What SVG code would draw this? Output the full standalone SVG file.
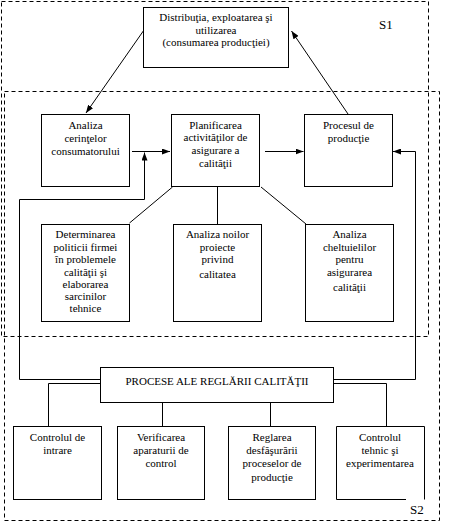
<svg xmlns="http://www.w3.org/2000/svg" width="449" height="525" viewBox="0 0 449 525" font-family="'Liberation Serif', 'Times New Roman', serif" font-size="11" font-weight="normal">
<defs>
<marker id="arr" markerUnits="userSpaceOnUse" markerWidth="8" markerHeight="6" refX="8" refY="3" orient="auto">
<path d="M0,0 L8,3 L0,6 z" fill="#000"/>
</marker>
<style>
.box{fill:#fff;stroke:#000;stroke-width:1}
.dash{fill:none;stroke:#000;stroke-width:1;stroke-dasharray:4 3}
.ln{fill:none;stroke:#000;stroke-width:1}
text{font-family:'Liberation Serif','Times New Roman',serif;font-size:11px;font-weight:normal;fill:#000;text-anchor:middle}
text.lbl{font-size:13px;text-anchor:start}
</style>
</defs>
<rect width="449" height="525" fill="#fff"/>
<g id="regions">
<rect class="dash" x="1.5" y="1.5" width="427" height="335"/>
<rect class="dash" x="4.5" y="91.5" width="435" height="429"/>
<text class="lbl" x="379" y="29">S1</text>
</g>
<g id="connectors">
<line class="ln" x1="144" y1="30" x2="86" y2="113" marker-end="url(#arr)"/>
<line class="ln" x1="348" y1="114" x2="291.5" y2="31" marker-end="url(#arr)"/>
<line class="ln" x1="132" y1="151.5" x2="170" y2="151.5" marker-end="url(#arr)"/>
<polyline class="ln" points="100,379.5 19.5,379.5 19.5,199.5 144.5,199.5 144.5,152.5" marker-end="url(#arr)"/>
<line class="ln" x1="265" y1="151.5" x2="303.5" y2="151.5" marker-end="url(#arr)"/>
<polyline class="ln" points="334,379.5 415.5,379.5 415.5,151.5 393,151.5" marker-end="url(#arr)"/>
<line class="ln" x1="172.5" y1="187" x2="129.5" y2="223"/>
<line class="ln" x1="217.5" y1="187" x2="217.5" y2="224"/>
<line class="ln" x1="261" y1="187" x2="306" y2="224"/>
<polyline class="ln" points="100,383.5 48.5,383.5 48.5,426"/>
<line class="ln" x1="162.5" y1="403" x2="162.5" y2="426"/>
<line class="ln" x1="270.5" y1="403" x2="270.5" y2="426"/>
<polyline class="ln" points="334,383.5 386.5,383.5 386.5,426"/>
</g>
<g id="n-distributia">
<rect class="box" x="143.5" y="7.5" width="145" height="60"/>
<text x="216" y="21">Distribuţia, exploatarea şi</text>
<text x="216" y="33.5">utilizarea</text>
<text x="216" y="46">(consumarea producţiei)</text>
</g>
<g id="n-analiza">
<rect class="box" x="41.5" y="114.5" width="88" height="72"/>
<text x="85.5" y="129">Analiza</text>
<text x="85.5" y="141.5">cerinţelor</text>
<text x="85.5" y="155">consumatorului</text>
</g>
<g id="n-planificarea">
<rect class="box" x="171.5" y="114.5" width="88" height="72"/>
<text x="215.5" y="128.5">Planificarea</text>
<text x="215.5" y="141">activităţilor de</text>
<text x="215.5" y="153.5">asigurare a</text>
<text x="215.5" y="166.5">calităţii</text>
</g>
<g id="n-procesul">
<rect class="box" x="304.5" y="114.5" width="88" height="72"/>
<text x="348.5" y="128.5">Procesul de</text>
<text x="348.5" y="141.5">producţie</text>
</g>
<g id="n-determinarea">
<rect class="box" x="41.5" y="224.5" width="88" height="97"/>
<text x="85.5" y="237.5">Determinarea</text>
<text x="85.5" y="250.5">politicii firmei</text>
<text x="85.5" y="263">în problemele</text>
<text x="85.5" y="276">calităţii şi</text>
<text x="85.5" y="287.5">elaborarea</text>
<text x="85.5" y="300">sarcinilor</text>
<text x="85.5" y="311.5">tehnice</text>
</g>
<g id="n-noilor">
<rect class="box" x="173.5" y="224.5" width="88" height="97"/>
<text x="217.5" y="237.5">Analiza noilor</text>
<text x="217.5" y="250.5">proiecte</text>
<text x="217.5" y="263">privind</text>
<text x="217.5" y="278">calitatea</text>
</g>
<g id="n-cheltuielilor">
<rect class="box" x="305.5" y="224.5" width="88" height="97"/>
<text x="349.5" y="237.5">Analiza</text>
<text x="349.5" y="250.5">cheltuielilor</text>
<text x="349.5" y="263">pentru</text>
<text x="349.5" y="276">asigurarea</text>
<text x="349.5" y="290.5">calităţii</text>
</g>
<g id="n-procese">
<rect class="box" x="100.5" y="367.5" width="233" height="35"/>
<text x="217" y="384.5">PROCESE ALE REGLĂRII CALITĂŢII</text>
</g>
<g id="n-intrare">
<rect class="box" x="13.5" y="426.5" width="88" height="73"/>
<text x="57.5" y="440.5">Controlul de</text>
<text x="57.5" y="453.5">intrare</text>
</g>
<g id="n-verificarea">
<rect class="box" x="117.5" y="426.5" width="87" height="73"/>
<text x="161" y="440.5">Verificarea</text>
<text x="161" y="453.5">aparaturii de</text>
<text x="161" y="466.5">control</text>
</g>
<g id="n-reglarea">
<rect class="box" x="228.5" y="426.5" width="87" height="73"/>
<text x="272" y="440.5">Reglarea</text>
<text x="272" y="453.5">desfăşurării</text>
<text x="272" y="466.5">proceselor de</text>
<text x="272" y="480.5">producţie</text>
</g>
<g id="n-tehnic">
<path class="box" d="M406,499.5 L336.5,499.5 L336.5,426.5 L424.5,426.5 L424.5,499.5"/>
<text x="380" y="440.5">Controlul</text>
<text x="380" y="453.5">tehnic şi</text>
<text x="380" y="466.5">experimentarea</text>
</g>
<text class="lbl" x="410" y="514">S2</text>
</svg>
